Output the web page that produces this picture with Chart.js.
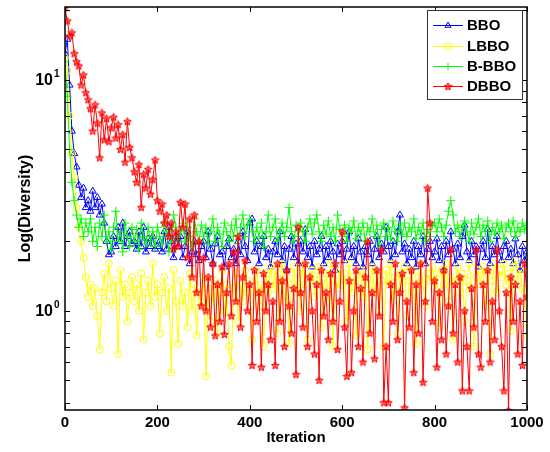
<!DOCTYPE html>
<html>
<head>
<meta charset="utf-8">
<script src="https://cdn.jsdelivr.net/npm/chart.js@4.4.1/dist/chart.umd.min.js"></script>
<style>
html, body { margin: 0; padding: 0; background: #fff; }
#wrap { width: 550px; height: 452px; position: relative; }
</style>
</head>
<body>
<div id="wrap"><canvas id="diversity-chart"></canvas></div>
<script>
// sampled every 5 iterations, 0..1000
var iterations = [];
for (var i = 0; i <= 1000; i += 5) iterations.push(i);

var seriesNames = ["BBO", "LBBO", "B-BBO", "DBBO"];

var bbo = [
    13, 15, 9.5, 6.0, 4.8, 4.2, 3.5, 3.1, 3.4, 2.8,
    3.0, 2.7, 3.3, 2.8, 3.1, 2.6, 2.9, 2.4, 2.0, 1.75,
    1.8, 2.1, 1.9, 2.3, 2.0, 2.4, 1.9, 2.1, 2.2, 1.95,
    2.0, 1.85, 2.2, 1.9, 2.3, 1.8, 2.05, 1.9, 2.1, 1.85,
    1.9, 2.0, 1.8, 2.2, 1.85, 2.3, 2.0, 1.7, 2.1, 1.9,
    2.1, 1.7, 1.9, 2.2, 1.6, 1.8, 2.0, 1.75, 1.65, 1.9,
    2.0, 1.7, 2.2, 1.85, 1.6, 1.95, 2.1, 1.75, 1.8, 1.55,
    1.9, 2.05, 1.7, 1.85, 1.6, 2.0, 1.75, 2.2, 1.9, 1.65,
    2.4, 2.5, 1.8, 2.0, 1.6, 1.9, 2.1, 1.7, 1.85, 1.55,
    1.8, 2.0, 1.75, 2.2, 1.65, 1.9, 1.5, 1.85, 2.1, 1.7,
    1.95, 1.6, 2.0, 1.8, 2.25, 1.7, 1.9, 1.55, 2.0, 1.75,
    1.85, 2.1, 1.6, 1.9, 1.7, 2.0, 1.8, 1.5, 1.95, 1.75,
    2.0, 1.65, 1.85, 2.2, 1.7, 1.9, 1.6, 2.05, 1.8, 1.55,
    1.9, 1.75, 2.0, 1.6, 1.85, 2.1, 1.7, 1.95, 1.8, 2.3,
    1.9, 1.65, 2.0, 1.75, 2.2, 2.6, 1.8, 1.95, 1.6, 1.85,
    1.7, 2.0, 1.55, 1.9, 1.75, 2.1, 1.6, 1.85, 2.0, 1.7,
    1.8, 2.05, 1.65, 1.9, 1.5, 2.0, 1.75, 2.2, 1.85, 1.6,
    1.95, 1.7, 2.1, 2.35, 1.8, 1.65, 2.0, 1.75, 1.9, 1.55,
    1.85, 2.0, 1.7, 2.25, 1.6, 1.9, 1.75, 2.1, 1.8, 1.65,
    1.9, 2.0, 1.7, 1.85, 1.6, 2.05, 1.75, 1.5, 1.9, 1.65,
    1.8
];

var lbbo = [
    12.5, 11, 7.0, 4.8, 3.8, 2.8, 2.3, 2.0, 1.7, 1.4,
    1.15, 1.3, 1.05, 1.25, 0.95, 0.68, 1.2, 1.45, 1.1, 1.6,
    1.25, 1.05, 1.35, 0.65, 1.5, 1.15, 1.3, 0.9, 1.2, 1.4,
    1.1, 1.3, 1.0, 1.45, 0.75, 1.2, 1.35, 1.05, 1.6, 1.15,
    1.3, 0.8, 1.2, 1.4, 1.0, 1.25, 0.54, 1.5, 1.1, 0.72,
    1.35, 1.05, 1.2, 0.85, 1.45, 1.0, 1.3, 0.78, 1.2, 1.1,
    1.4, 0.52, 1.25, 0.9, 1.15, 1.35, 0.8, 1.2, 1.5, 1.0,
    1.3, 0.7, 0.58, 1.25, 1.45, 0.9, 1.3, 1.1, 1.5, 1.2,
    1.35, 0.75, 1.2, 1.5, 1.05, 1.3, 0.7, 1.45, 1.2, 1.55,
    1.25, 1.5, 0.8, 1.35, 1.6, 1.1, 1.4, 0.72, 1.3, 1.55,
    1.2, 1.45, 1.0, 1.6, 1.3, 0.75, 1.4, 1.5, 1.15, 1.35,
    1.55, 0.85, 1.3, 1.45, 1.1, 1.6, 0.7, 1.35, 1.25, 1.5,
    1.3, 1.45, 0.9, 1.6, 1.2, 1.4, 0.78, 1.35, 1.5, 1.15,
    1.4, 0.68, 1.3, 1.55, 1.2, 1.45, 1.0, 1.35, 0.7, 1.5,
    1.3, 1.6, 1.1, 1.4, 0.8, 1.45, 1.25, 1.55, 0.95, 1.35,
    1.5, 1.2, 0.72, 1.4, 1.6, 1.3, 1.05, 1.45, 1.35, 1.55,
    1.25, 1.45, 0.85, 1.5, 1.3, 1.6, 1.1, 1.4, 0.75, 1.35,
    1.55, 1.2, 1.45, 0.9, 1.35, 1.6, 1.25, 0.7, 1.4, 1.5,
    1.3, 1.55, 1.05, 1.45, 0.65, 1.35, 1.6, 1.2, 1.5, 1.4,
    1.6, 1.3, 1.45, 0.82, 1.55, 1.65, 1.35, 1.5, 1.25, 1.2,
    0.78
];

var bBbo = [
    12, 8.5, 5.0, 3.6, 3.0, 2.6, 2.3, 2.5, 2.1, 2.4,
    2.2, 2.5, 2.0, 2.3, 1.9, 2.4, 2.1, 2.6, 2.0, 2.2,
    1.85, 2.3, 2.7, 2.0, 2.2, 1.8, 2.4, 2.1, 1.9, 2.3,
    2.0, 2.25, 1.85, 2.4, 2.1, 1.95, 2.3, 2.0, 2.2, 1.9,
    2.3, 2.1, 1.95, 2.4, 2.2, 1.8, 2.05, 2.6, 2.3, 2.0,
    2.2, 2.4, 2.0, 2.3, 2.1, 1.9, 2.5, 2.2, 2.0, 2.35,
    2.1, 2.3, 1.95, 2.2, 2.5, 2.0, 2.3, 2.15, 1.9, 2.4,
    2.2, 2.0, 2.35, 2.1, 2.5, 1.95, 2.3, 2.6, 2.1, 2.35,
    2.5, 2.2, 2.0, 2.3, 2.1, 2.4, 1.9, 2.2, 2.6, 2.1,
    2.3, 2.5, 2.0, 2.2, 2.4, 2.1, 2.3, 2.8, 2.2, 2.0,
    2.35, 2.1, 2.4, 2.2, 2.0, 2.3, 2.5, 2.15, 2.4, 2.6,
    2.2, 2.0, 2.35, 2.15, 2.45, 2.1, 2.3, 2.0, 2.6, 2.25,
    2.1, 2.35, 2.0, 2.3, 2.2, 2.45, 2.05, 2.3, 2.15, 2.4,
    2.0, 2.3, 2.2, 2.5, 2.1, 2.35, 1.95, 2.25, 2.4, 2.1,
    2.3, 2.05, 2.45, 2.2, 2.0, 2.35, 2.15, 2.4, 2.1, 2.3,
    2.2, 2.5, 2.05, 2.3, 2.15, 2.4, 2.0, 2.25, 2.1, 2.35,
    2.4, 2.2, 2.5, 2.3, 2.1, 2.35, 2.7, 3.0, 2.6, 2.2,
    2.35, 2.1, 2.3, 2.45, 2.2, 2.0, 2.4, 2.15, 2.3, 2.5,
    2.1, 2.35, 2.2, 2.45, 2.0, 2.3, 2.15, 2.4, 2.2, 2.35,
    2.05, 2.3, 2.4, 2.2, 2.45, 2.1, 2.3, 2.2, 2.4, 2.25,
    2.35
];

var dbbo = [
    20.5, 18, 15.5, 16, 13, 12, 11.5, 9.5, 10.5, 8.8,
    8.2, 7.5, 6.0, 7.8, 6.5, 4.6, 7.2, 5.5, 6.8, 5.4,
    6.2, 6.9, 5.6, 6.4, 5.0, 5.8, 4.4, 6.6, 5.1, 4.6,
    4.0, 3.6, 4.3, 2.8, 3.9, 3.4, 4.1, 3.2, 3.7, 4.5,
    3.0, 2.7, 2.9, 2.4, 2.6, 2.1, 2.4, 1.85, 2.2, 1.9,
    2.95, 2.3, 2.9, 1.7, 2.5, 1.4, 2.6, 1.2, 2.0, 1.05,
    1.7, 1.0, 1.4, 0.85, 1.6, 0.78, 1.3, 0.9, 1.55, 0.79,
    1.2, 1.6, 0.95, 1.8, 1.1, 2.1, 0.85, 1.4, 1.65, 1.0,
    1.3, 0.58, 1.5, 0.9, 1.2, 0.57, 1.45, 1.0, 1.3, 0.75,
    1.1, 0.58, 1.6, 0.9, 1.35, 0.7, 1.5, 1.05, 0.8, 1.25,
    0.53, 2.3, 1.2, 0.85, 1.6, 0.7, 1.4, 1.0, 0.65, 1.3,
    0.5, 1.5, 0.95, 1.2, 0.75, 1.45, 0.9, 1.6, 0.68, 1.1,
    2.2, 0.85, 0.52, 1.35, 0.54, 1.0, 1.5, 0.7, 1.25, 0.6,
    1.4, 1.99, 0.8, 1.2, 0.62, 1.5, 0.95, 1.84, 0.40, 0.7,
    0.4, 1.3, 0.9, 1.6, 0.75, 1.2, 1.45, 0.38, 1.1, 0.85,
    1.5, 0.54, 1.3, 0.8, 1.6, 0.49, 1.1, 3.4, 2.4, 0.9,
    1.35, 0.57, 1.2, 0.75, 1.5, 0.65, 1.05, 1.84, 0.8, 1.3,
    0.6, 1.4, 0.45, 1.0, 0.7, 0.45, 1.25, 0.85, 1.84, 0.65,
    0.57, 1.3, 0.9, 1.5, 0.6, 1.1, 0.75, 1.84, 1.0, 0.7,
    0.45, 1.2, 0.37, 1.4, 0.9, 1.3, 0.65, 1.1, 0.58, 1.6,
    1.15
];

var xTicks = [0, 200, 400, 600, 800, 1000];
var yTicks = [0.4, 0.5, 0.6, 0.7, 0.8, 0.9, 1, 2, 3, 4, 5, 6, 7, 8, 9, 10, 20];
var yLabelled = [1, 10];

var FONT = "'Liberation Sans', Arial, sans-serif";

// small pentagram marker like matlab 'p'
function starMarker(color) {
    var c = document.createElement("canvas");
    c.width = 9; c.height = 9;
    var g = c.getContext("2d");
    g.strokeStyle = color;
    g.fillStyle = "rgba(255,0,0,0.6)";
    g.lineWidth = 1;
    g.beginPath();
    for (var k = 0; k < 10; k++) {
        var r = k % 2 === 0 ? 4 : 1.9;
        var ang = -Math.PI / 2 + k * Math.PI / 5;
        var px = 4.5 + r * Math.cos(ang), py = 4.7 + r * Math.sin(ang);
        if (k === 0) g.moveTo(px, py); else g.lineTo(px, py);
    }
    g.closePath();
    g.fill();
    g.stroke();
    return c;
}

function series(label, values, color, style, radius, order) {
    return {
        label: label,
        data: values,
        borderColor: color,
        backgroundColor: "rgba(0,0,0,0)",
        borderWidth: 1,
        pointStyle: style,
        pointRadius: radius,
        pointBorderColor: color,
        pointBackgroundColor: "rgba(0,0,0,0)",
        pointBorderWidth: 1,
        tension: 0,
        order: order
    };
}

var datasets = [
    series(seriesNames[0], bbo, "#0000ff", "triangle", 4, 4),
    series(seriesNames[1], lbbo, "#ffff00", "circle", 3.5, 3),
    series(seriesNames[2], bBbo, "#00ff00", "cross", 4.5, 2),
    series(seriesNames[3], dbbo, "#ff0000", starMarker("#ff0000"), 4, 1)
];

// box, inward ticks, y labels and legend, matlab style
var matlabFrame = {
    id: "matlabFrame",
    afterDraw: function (chart) {
        var ctx = chart.ctx, a = chart.chartArea;
        var xs = chart.scales.x, ys = chart.scales.y;
        ctx.save();
        ctx.strokeStyle = "#000";
        ctx.lineWidth = 1;
        ctx.beginPath();
        xTicks.forEach(function (v) {
            var px = Math.round(xs.getPixelForValue(v)) + 0.5;
            ctx.moveTo(px, a.bottom); ctx.lineTo(px, a.bottom - 5);
            ctx.moveTo(px, a.top); ctx.lineTo(px, a.top + 5);
        });
        yTicks.forEach(function (v) {
            var py = Math.round(ys.getPixelForValue(v)) + 0.5;
            ctx.moveTo(a.left, py); ctx.lineTo(a.left + 5, py);
            ctx.moveTo(a.right, py); ctx.lineTo(a.right - 5, py);
        });
        ctx.stroke();
        ctx.lineWidth = 1.5;
        ctx.strokeRect(a.left, a.top, a.right - a.left, a.bottom - a.top);

        // y tick labels 10^0, 10^1
        ctx.fillStyle = "#000";
        ctx.textBaseline = "middle";
        yLabelled.forEach(function (v) {
            var py = ys.getPixelForValue(v);
            ctx.font = "bold 16px " + FONT;
            ctx.textAlign = "right";
            ctx.fillText("10", 53, py + 1);
            ctx.font = "bold 10px " + FONT;
            ctx.textAlign = "left";
            ctx.fillText(String(Math.round(Math.log10(v))), 54, py - 6);
        });

        // legend
        var lx = 427, ly = 10, lw = 95, lh = 89;
        ctx.fillStyle = "#fff";
        ctx.fillRect(lx, ly, lw, lh);
        ctx.strokeStyle = "#333";
        ctx.lineWidth = 1;
        ctx.strokeRect(lx + 0.5, ly + 0.5, lw, lh);
        var rows = [25, 46, 66, 86];
        chart.data.datasets.forEach(function (ds, idx) {
            var ry = rows[idx];
            ctx.strokeStyle = ds.borderColor;
            ctx.lineWidth = 1;
            ctx.beginPath();
            ctx.moveTo(433, ry + 0.5); ctx.lineTo(463, ry + 0.5);
            ctx.stroke();
            ctx.fillStyle = "rgba(0,0,0,0)";
            Chart.helpers.drawPoint(ctx, {
                pointStyle: ds.pointStyle, radius: 3.5, rotation: 0, borderWidth: 1
            }, 448, ry + 0.5);
            ctx.fillStyle = "#000";
            ctx.font = "bold 15px " + FONT;
            ctx.textAlign = "left";
            ctx.textBaseline = "middle";
            ctx.fillText(ds.label, 467, ry + 1);
        });
        ctx.restore();
    }
};

new Chart(document.getElementById("diversity-chart"), {
    type: "line",
    data: {
        labels: iterations,
        datasets: datasets
    },
    options: {
        responsive: true,
        maintainAspectRatio: false,
        animation: false,
        devicePixelRatio: 1,
        layout: { padding: { top: 7, right: 23, left: 0, bottom: 0 } },
        plugins: {
            legend: { display: false },
            tooltip: { enabled: false }
        },
        scales: {
            x: {
                type: "linear",
                min: 0,
                max: 1000,
                afterFit: function (s) { s.height = 42; },
                grid: { display: false, drawTicks: false },
                border: { display: false },
                ticks: {
                    stepSize: 200,
                    maxRotation: 0,
                    padding: 4,
                    color: "#000",
                    font: { family: FONT, size: 15, weight: "bold" },
                    callback: function (v) { return String(v); }
                },
                title: {
                    display: true,
                    text: "Iteration",
                    color: "#000",
                    font: { family: FONT, size: 15, weight: "bold" },
                    padding: { top: 0, bottom: 5 }
                }
            },
            y: {
                type: "logarithmic",
                min: 0.372,
                max: 20.7,
                afterFit: function (s) { s.width = 65; },
                grid: { display: false, drawTicks: false },
                border: { display: false },
                ticks: { display: false },
                title: {
                    display: true,
                    text: "Log(Diversity)",
                    color: "#000",
                    font: { family: FONT, size: 16, weight: "bold" },
                    padding: { top: 16, bottom: 0 }
                }
            }
        }
    },
    plugins: [matlabFrame]
});
</script>
</body>
</html>
